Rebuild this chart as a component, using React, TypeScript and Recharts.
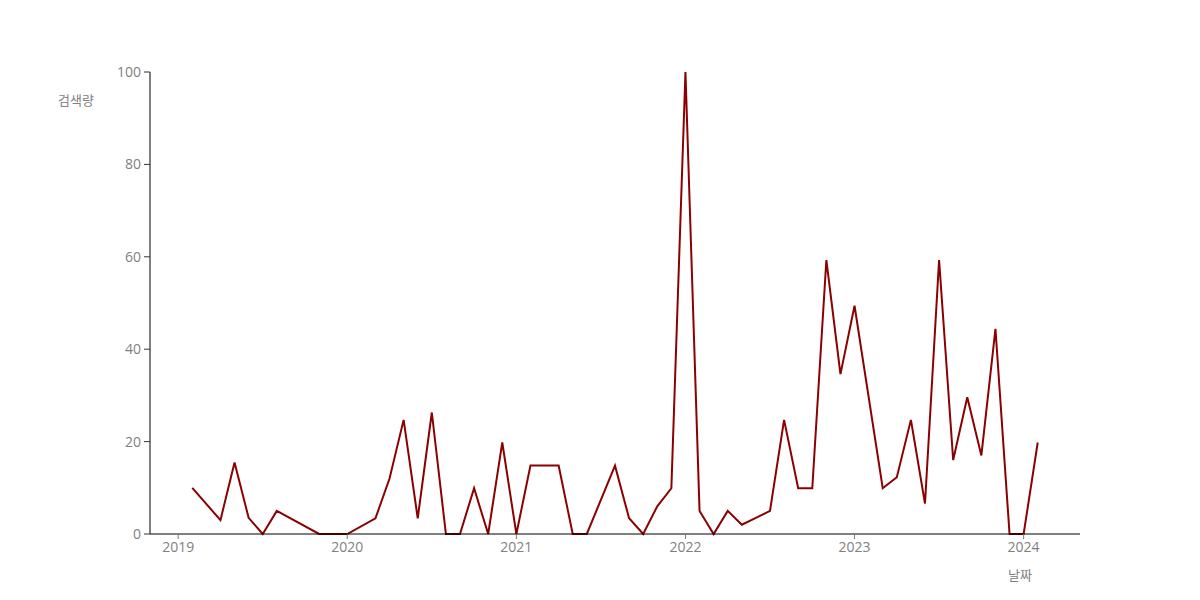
import { LineChart, Line, XAxis, YAxis } from "recharts";

const months = [
  "2019-02", "2019-04", "2019-05", "2019-06", "2019-07", "2019-08", "2019-11", "2019-12",
  "2020-01", "2020-03", "2020-04", "2020-05", "2020-06", "2020-07", "2020-08", "2020-09", "2020-10", "2020-11", "2020-12",
  "2021-01", "2021-02", "2021-03", "2021-04", "2021-05", "2021-06", "2021-08", "2021-09", "2021-10", "2021-11", "2021-12",
  "2022-01", "2022-02", "2022-03", "2022-04", "2022-05", "2022-06", "2022-07", "2022-08", "2022-09", "2022-10", "2022-11", "2022-12",
  "2023-01", "2023-03", "2023-04", "2023-05", "2023-06", "2023-07", "2023-08", "2023-09", "2023-10", "2023-11", "2023-12",
  "2024-01", "2024-02",
];

const searchVolume = [
  10, 3, 15.5, 3.5, 0, 5, 0, 0,
  0, 3.4, 12, 24.7, 3.4, 26.3, 0, 0, 9.9, 0, 19.8,
  0, 14.8, 14.8, 14.8, 0, 0, 14.8, 3.4, 0, 6, 9.9,
  100, 5, 0, 5, 2, 3.5, 5, 24.7, 9.9, 9.9, 59.3, 34.6,
  49.4, 9.9, 12.3, 24.7, 6.6, 59.3, 16, 29.6, 17, 44.4, 0,
  0, 19.8,
];

const yearTicks = [2019, 2020, 2021, 2022, 2023, 2024];
const valueTicks = [0, 20, 40, 60, 80, 100];

const toYear = (s: string) => {
  const [y, m] = s.split("-").map(Number);
  return y + (m - 1) / 12;
};

const data = months.map((m, i) => ({ t: toYear(m), v: searchVolume[i] }));

const FONT = "'Open Sans', 'Noto Sans CJK KR', sans-serif";
const GREY = "#808080";

export default function App() {
  return (
    <div style={{ position: "absolute", left: 0, top: 0, width: 1200, height: 600, background: "#fff", fontFamily: FONT }}>
      <LineChart width={1200} height={600} data={data} margin={{ top: 72, right: 120, bottom: 26, left: 90 }}>
        <XAxis
          dataKey="t"
          type="number"
          domain={[2018 + 10 / 12, 2024 + 4 / 12]}
          ticks={yearTicks}
          allowDataOverflow
          height={40}
          stroke="#000"
          axisLine={{ stroke: "#000", strokeWidth: 1 }}
          tickSize={5}
          tickMargin={3}
          tick={{ fill: GREY, fontSize: 14, fontFamily: FONT }}
          tickLine={{ stroke: "#777" }}
        />
        <YAxis
          type="number"
          domain={[0, 100]}
          ticks={valueTicks}
          width={60}
          stroke="#000"
          axisLine={{ stroke: "#000", strokeWidth: 1 }}
          tickSize={6}
          tickMargin={3}
          tick={{ fill: GREY, fontSize: 14, fontFamily: FONT }}
          tickLine={{ stroke: "#333" }}
        />
        <Line
          type="linear"
          dataKey="v"
          stroke="#8b0000"
          strokeWidth={2}
          dot={false}
          activeDot={false}
          isAnimationActive={false}
        />
        <text x={76} y={105} textAnchor="middle" fill={GREY} fontSize={13} fontFamily={FONT}>
          검색량
        </text>
        <text x={1020} y={580} textAnchor="middle" fill={GREY} fontSize={13} fontFamily={FONT}>
          날짜
        </text>
      </LineChart>
    </div>
  );
}
